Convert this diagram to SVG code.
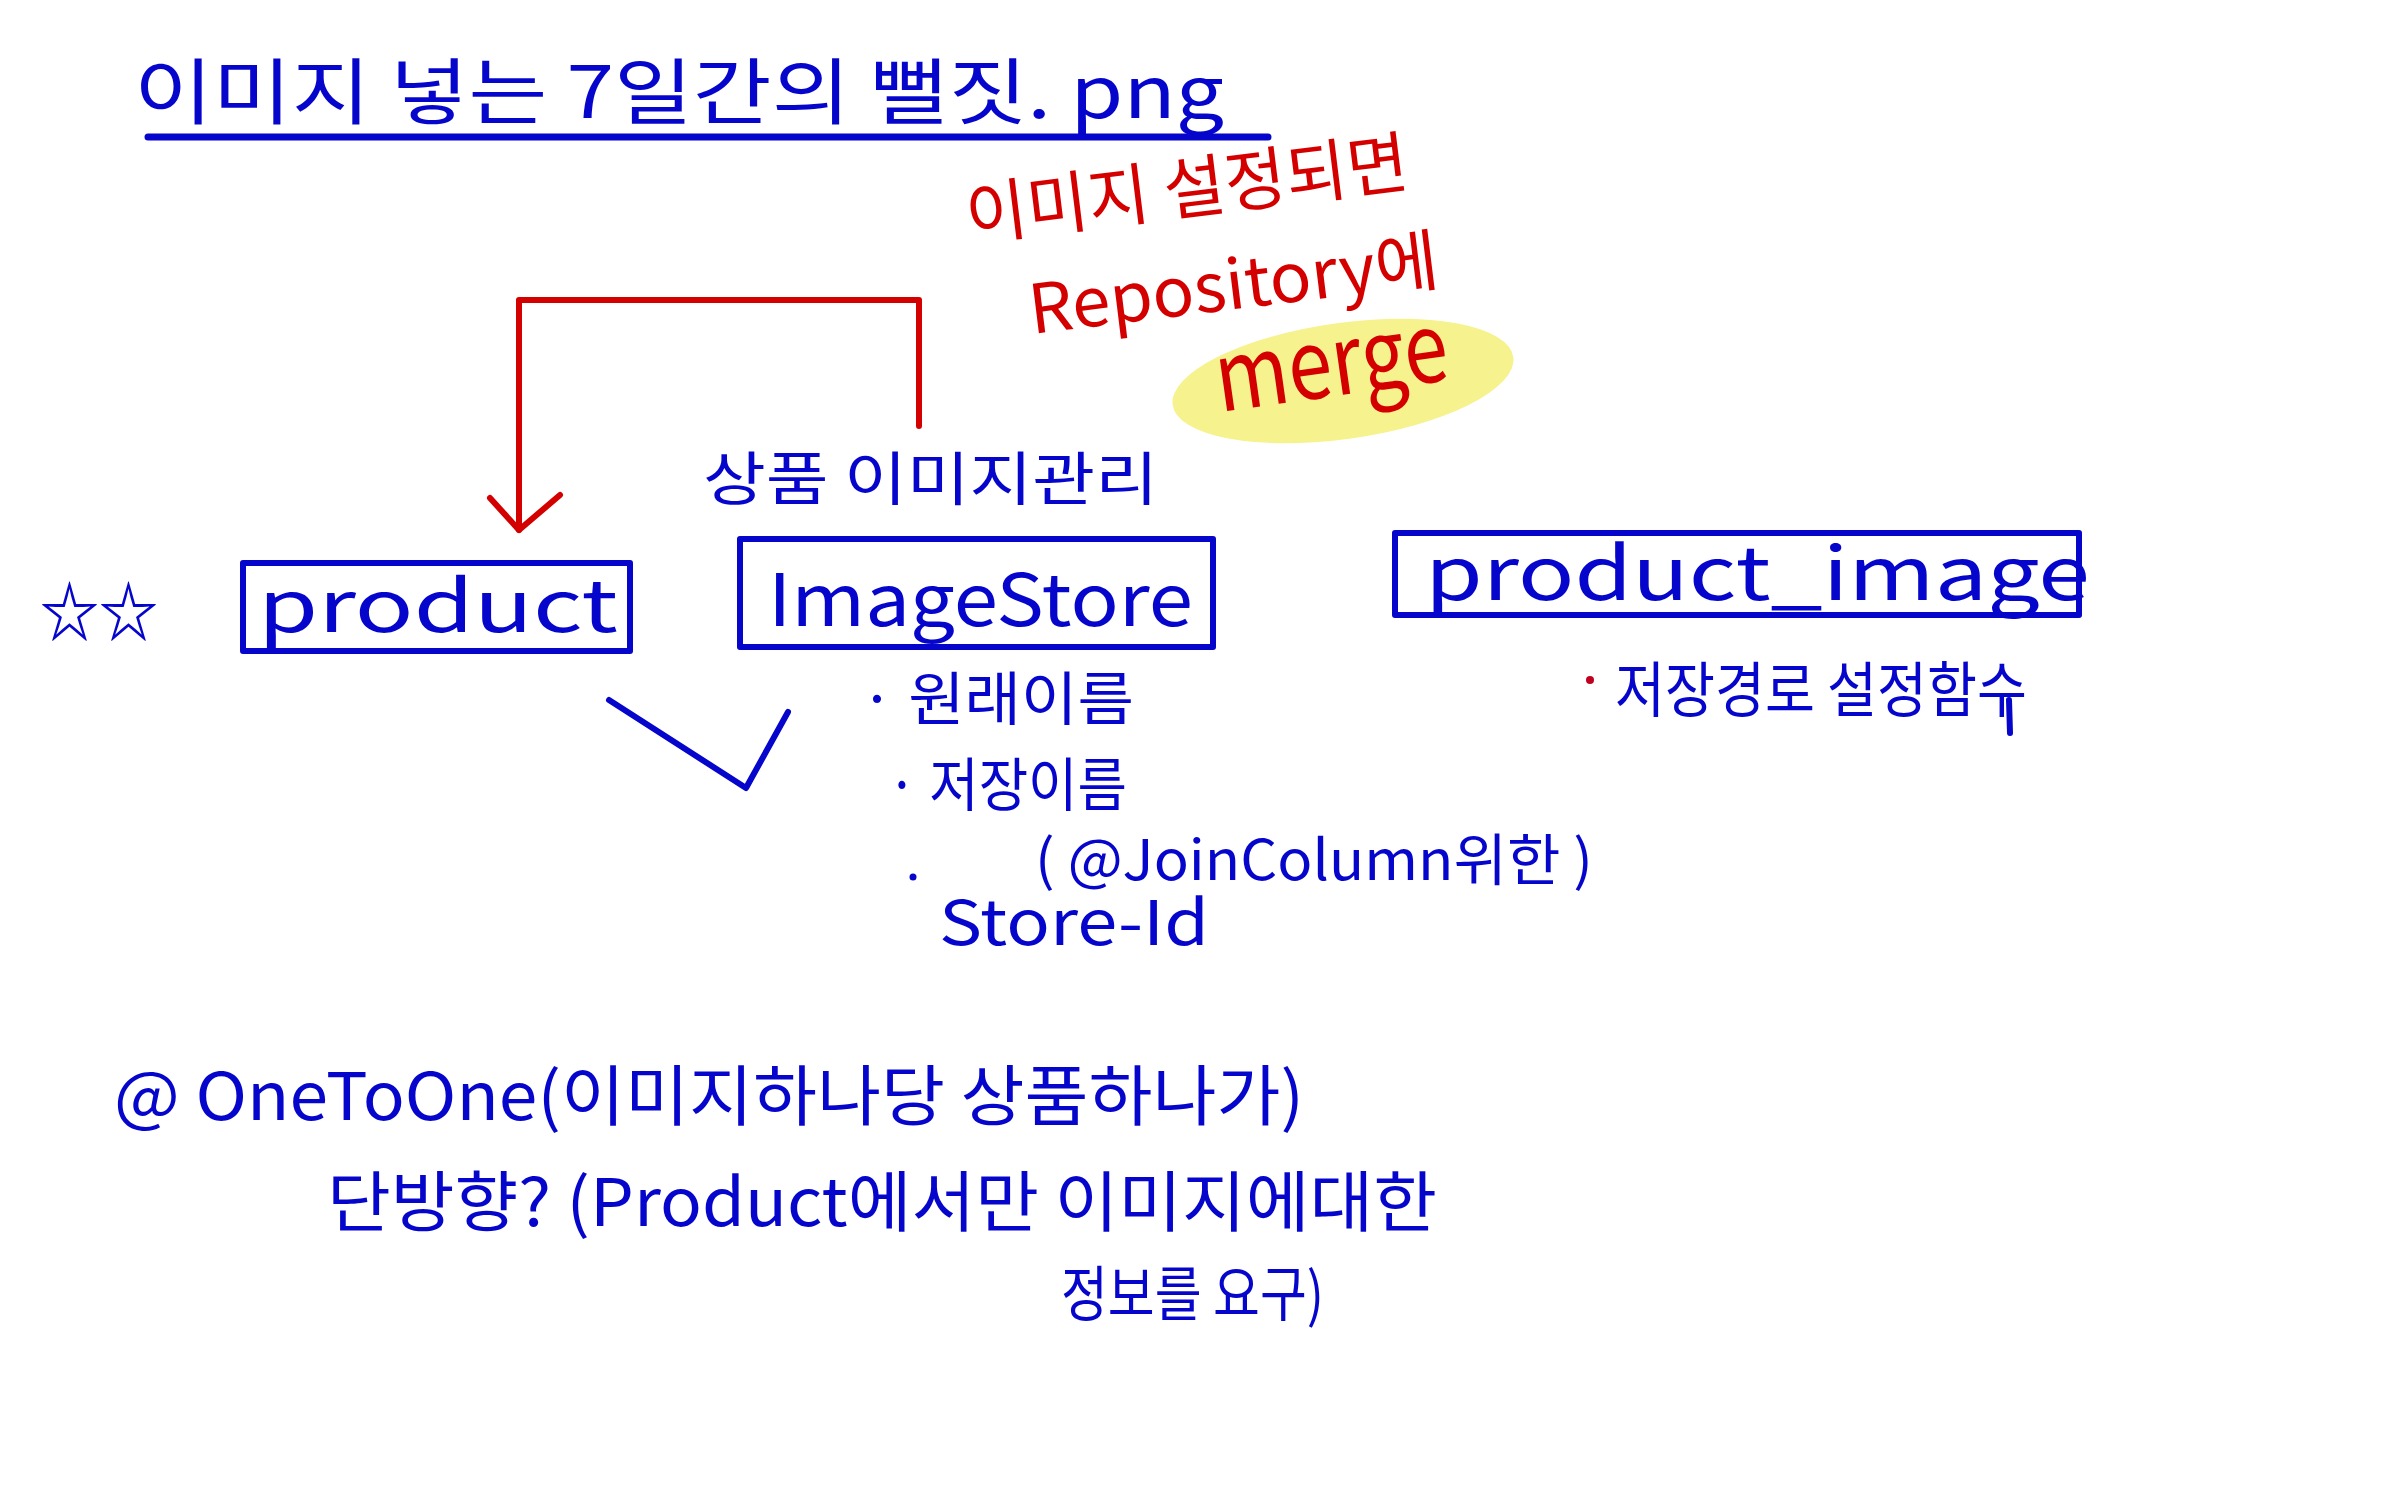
<svg xmlns="http://www.w3.org/2000/svg" width="2386" height="1491" viewBox="0 0 2386 1491">
<style>
.b{fill:#0505cc;font-family:"Noto Sans CJK KR","Noto Sans",sans-serif;}
.r{fill:#d40000;font-family:"Noto Sans CJK KR","Noto Sans",sans-serif;}
.box{fill:none;stroke:#0505cc;stroke-width:6;stroke-linejoin:round;}
.red{fill:none;stroke:#d40000;stroke-width:6;stroke-linecap:round;stroke-linejoin:round;}
.pen{fill:none;stroke:#0505cc;stroke-width:6;stroke-linecap:round;stroke-linejoin:round;}
</style>
<rect width="2386" height="1491" fill="#ffffff"/>

<g id="title">
<text class="b" x="134" y="118" font-size="72" textLength="1090" lengthAdjust="spacingAndGlyphs">이미지 넣는 7일간의 뻘짓. png</text>
<line x1="148" y1="137" x2="1268" y2="137" stroke="#0505cc" stroke-width="7" stroke-linecap="round"/>
</g>

<g id="note-merge">
<ellipse cx="1343" cy="381" rx="172" ry="58" fill="#f5f07a" opacity="0.85" transform="rotate(-8 1343 381)"/>
<text class="r" x="969" y="240" font-size="68" textLength="445" lengthAdjust="spacingAndGlyphs" transform="rotate(-7 969 240)">이미지 설정되면</text>
<text class="r" x="1032" y="334" font-size="68" textLength="412" lengthAdjust="spacingAndGlyphs" transform="rotate(-7 1032 334)">Repository에</text>
<text class="r" x="1220" y="412" font-size="96" textLength="234" lengthAdjust="spacingAndGlyphs" transform="rotate(-8 1220 412)">merge</text>
</g>

<g id="connectors">
<polyline class="red" points="919,426 919,300 519,300 519,530"/>
<polyline class="red" points="490,498 519,530 560,495"/>
<polyline class="pen" points="609,700 746,788 788,712"/>
</g>

<g id="stars">
<text class="b" x="40" y="636" font-size="66" font-weight="bold" textLength="118" lengthAdjust="spacingAndGlyphs">☆☆</text>
</g>

<g id="product">
<rect class="box" x="243" y="563" width="387" height="88"/>
<text class="b" x="258" y="632" font-size="72" textLength="360" lengthAdjust="spacingAndGlyphs">product</text>
</g>

<g id="imagestore">
<text class="b" x="703" y="500" font-size="58" textLength="455" lengthAdjust="spacingAndGlyphs">상품 이미지관리</text>
<rect class="box" x="740" y="539" width="473" height="108"/>
<text class="b" x="768" y="626" font-size="72" textLength="425" lengthAdjust="spacingAndGlyphs">ImageStore</text>
<text class="b" x="860" y="720" font-size="58" textLength="274" lengthAdjust="spacingAndGlyphs">· 원래이름</text>
<text class="b" x="887" y="806" font-size="58" textLength="240" lengthAdjust="spacingAndGlyphs">· 저장이름</text>
<text class="b" x="1035" y="880" font-size="56" textLength="558" lengthAdjust="spacingAndGlyphs">( @JoinColumn위한 )</text>
<circle cx="913" cy="877" r="3.5" fill="#0505cc"/>
<text class="b" x="939" y="945" font-size="62" textLength="270" lengthAdjust="spacingAndGlyphs">Store-Id</text>
</g>

<g id="product-image">
<rect class="box" x="1395" y="533" width="684" height="82"/>
<text class="b" x="1425" y="600" font-size="74" textLength="665" lengthAdjust="spacingAndGlyphs">product_image</text>
<circle cx="1590" cy="680" r="4" fill="#c00020"/>
<text class="b" x="1615" y="712" font-size="60" textLength="412" lengthAdjust="spacingAndGlyphs">저장경로 설정함수</text>
<line x1="2009" y1="700" x2="2010" y2="733" stroke="#0505cc" stroke-width="6" stroke-linecap="round"/>
</g>

<g id="notes">
<text class="b" x="114" y="1120" font-size="66" textLength="1190" lengthAdjust="spacingAndGlyphs">@ OneToOne(이미지하나당 상품하나가)</text>
<text class="b" x="327" y="1226" font-size="66" textLength="1110" lengthAdjust="spacingAndGlyphs">단방향? (Product에서만 이미지에대한</text>
<text class="b" x="1061" y="1316" font-size="60" textLength="263" lengthAdjust="spacingAndGlyphs">정보를 요구)</text>
</g>
</svg>
